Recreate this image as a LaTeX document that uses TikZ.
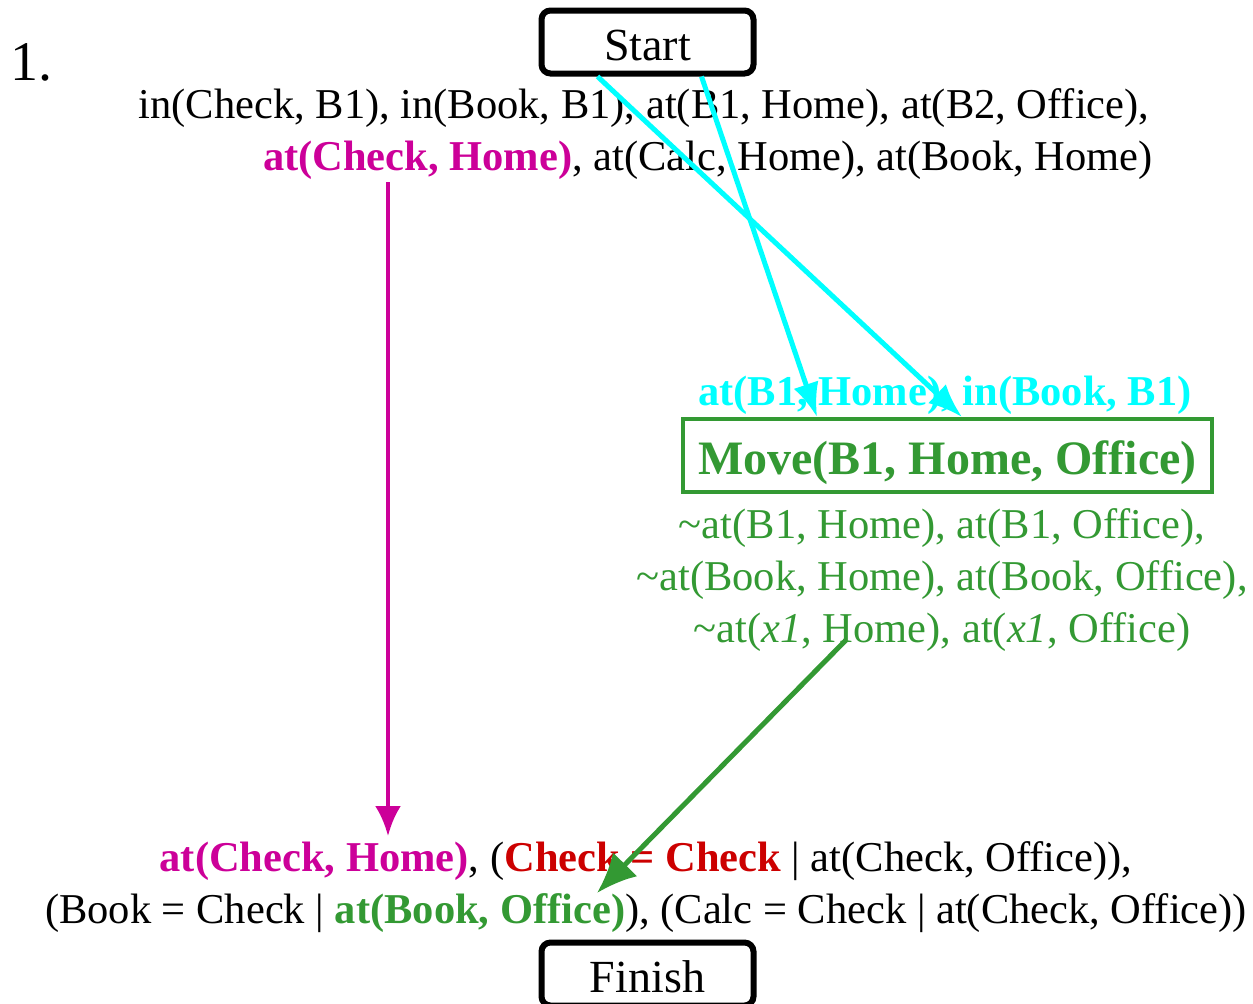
\documentclass[tikz,border=0pt]{standalone}
\usepackage{fontspec}
\setmainfont{Liberation Serif}
\usepackage{xcolor}
\usepackage{tikz}
\usetikzlibrary{arrows.meta}

\definecolor{plmagenta}{RGB}{204,0,153}
\definecolor{plcyan}{RGB}{0,255,255}
\definecolor{plgreen}{RGB}{51,153,51}
\definecolor{plred}{RGB}{204,0,0}

\newcommand{\hl}[2]{\textbf{\textcolor{#1}{#2}}}

\begin{document}
\begin{tikzpicture}[x=1pt,y=-1pt,
  lit/.style={inner sep=0pt,font=\fontsize{42.5}{52}\selectfont},
  endbox/.style={draw=black,line width=6pt,rounded corners=9pt,minimum width=212pt,minimum height=63pt,inner sep=0pt,
                 text height=37pt,text depth=0pt,font=\fontsize{46}{52}\selectfont},
  link/.style={line width=5pt,-{Latex[length=34pt,width=26pt]}}]
  \useasboundingbox (0,0) rectangle (1253,1004);

  \node[font=\fontsize{56}{62}\selectfont,inner sep=0pt] (num) at (31,62) {1.};

  \node[endbox] (start) at (647.5,42) {Start};
  \node[lit] (init1) at (644,108) {in(Check, B1), in(Book, B1), at(B1, Home), at(B2, Office),};
  \node[lit] (init2) at (708,160) {\hl{plmagenta}{at(Check, Home)}, at(Calc, Home), at(Book, Home)};

  \node[lit,text=plcyan,font=\fontsize{42.5}{52}\selectfont\bfseries] (pre) at (945,395) {at(B1, Home), in(Book, B1)};
  \node[draw=plgreen,line width=4pt,minimum width=529pt,minimum height=73pt,inner sep=0pt,text height=37pt,text depth=0pt,
        text=plgreen,font=\fontsize{48}{56}\selectfont\bfseries] (move) at (947.5,455.5) {Move(B1, Home, Office)};
  \node[lit,align=center,text=plgreen] (eff) at (942,580)
    {\textasciitilde at(B1, Home), at(B1, Office),\\
     \textasciitilde at(Book, Home), at(Book, Office),\\
     \textasciitilde at(\textit{x1}, Home), at(\textit{x1}, Office)};

  \node[lit,align=center] (goal) at (646,887)
    {\hl{plmagenta}{at(Check, Home)}, (\hl{plred}{Check = Check} | at(Check, Office)),\\
     (Book = Check | \hl{plgreen}{at(Book, Office)}), (Calc = Check | at(Check, Office))};
  \node[endbox] (finish) at (647.5,974) {Finish};

  \coordinate (magtop) at (388,182);
  \coordinate (magbot) at (388,836);
  \coordinate (efftail) at (846,640);
  \coordinate (goalhit) at (597,893);

  \draw[link,draw=plcyan,fill=plcyan] ([xshift=59pt]start.south west) -- ([xshift=281pt]move.north west);
  \draw[link,draw=plcyan,fill=plcyan] ([xshift=163pt]start.south west) -- ([xshift=136pt]move.north west);
  \draw[link,draw=plmagenta,line width=4.5pt,-{Latex[length=30pt,width=26pt]}] (magtop) -- (magbot);
  \draw[link,draw=plgreen,-{Latex[length=40pt,width=34pt]}] (efftail) -- (goalhit);
\end{tikzpicture}
\end{document}
